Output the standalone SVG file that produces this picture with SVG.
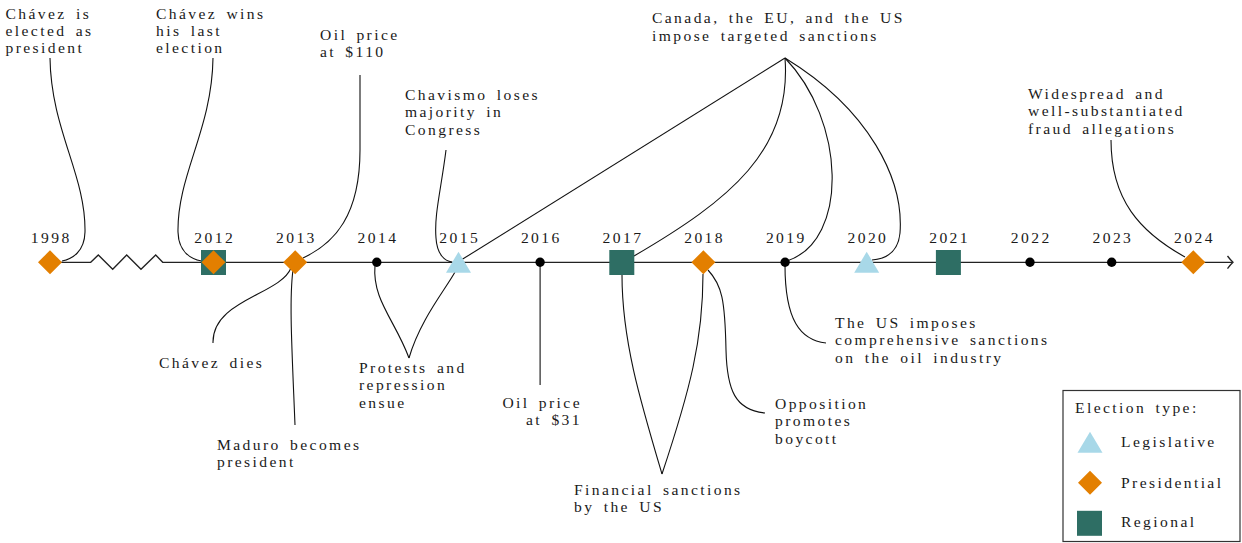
<svg xmlns="http://www.w3.org/2000/svg" width="1242" height="543" viewBox="0 0 1242 543">
<style>
text{font-family:"Liberation Serif","Times New Roman",serif;font-size:15.6px;fill:#1a1a1a;letter-spacing:2.4px;word-spacing:3px}
.yr{text-anchor:middle}
.c{fill:none;stroke:#111;stroke-width:1.1}
.ax{fill:none;stroke:#222;stroke-width:1.3}
.pres{fill:#e37f00}
.reg{fill:#2e6e64}
.leg{fill:#a8d8e8}
</style>
<defs>
<path id="dia" class="pres" d="M0,-12 L12,0 L0,12 L-12,0 Z"/>
<rect id="sq" class="reg" x="-12.5" y="-12.5" width="25" height="25"/>
<path id="tri" class="leg" d="M0,-10.5 L12.5,10.5 L-12.5,10.5 Z"/>
<circle id="dot" r="4.7" fill="#000"/>
</defs>
<rect width="1242" height="543" fill="#fff"/>
<g id="axis">
<path class="ax" d="M50,262.3 L90.7,262.3 L98.3,255 L112.7,269.3 L126.7,255 L141,269.3 L155.7,255 L162.7,262.3 L1232,262.3"/>
<path class="ax" d="M1227.5,256 Q1230.5,260 1233,262.3 Q1230.5,264.6 1227.5,268.6"/>
</g>
<g id="connectors">
<path class="c" d="M50,58 C51,130 86,175 85,232 C84.5,252 72,259 62,261"/>
<path class="c" d="M213,58 C212,130 177,175 178,232 C178.5,252 191,259 201.5,261"/>
<path class="c" d="M360,75 L360,150 C360,215 335,243 303,258"/>
<path class="c" d="M446,150 C441,190 434,215 436,238 C437,255 445,261 452,262"/>
<path class="c" d="M785,58 L462.3,259.3"/>
<path class="c" d="M785,58 C792,150 730,200 634,256"/>
<path class="c" d="M785,58 C845,120 850,240 787,261"/>
<path class="c" d="M785,58 C870,110 904,180 900,233 C898,253 885,259 872,260"/>
<path class="c" d="M1111,140 C1111,200 1140,232 1185,257"/>
<path class="c" d="M213,343 C212,300 280,295 291,268"/>
<path class="c" d="M295,425 C292,350 289,300 293,270"/>
<path class="c" d="M409,358 C395,320 372,300 375,265"/>
<path class="c" d="M409,358 C420,320 445,290 455,272"/>
<path class="c" d="M540.1,262 L540.1,385"/>
<path class="c" d="M662,474 C640,400 622,340 622,275"/>
<path class="c" d="M662,474 C690,390 703,340 703,274"/>
<path class="c" d="M765,413 C735,410 727,390 726,350 C725,300 722,285 708,270"/>
<path class="c" d="M826,343 C800,340 785,320 785,265"/>
</g>
<g id="markers">
<use href="#dia" x="50" y="262.3"/>
<use href="#sq" x="213.5" y="262.5"/>
<use href="#dia" x="213.5" y="262.3"/>
<use href="#dia" x="295.2" y="262.3"/>
<use href="#dot" x="376.8" y="262.3"/>
<use href="#tri" x="458.5" y="262.2"/>
<use href="#dot" x="540.1" y="262.3"/>
<use href="#sq" x="621.8" y="262.5"/>
<use href="#dia" x="703.4" y="262.3"/>
<use href="#dot" x="785.1" y="262.3"/>
<use href="#tri" x="866.7" y="262.2"/>
<use href="#sq" x="948.4" y="262.5"/>
<use href="#dot" x="1030" y="262.3"/>
<use href="#dot" x="1111.7" y="262.3"/>
<use href="#dia" x="1193.3" y="262.3"/>
</g>
<g id="years">
<text class="yr" x="51.2" y="243">1998</text>
<text class="yr" x="214.7" y="243">2012</text>
<text class="yr" x="296.4" y="243">2013</text>
<text class="yr" x="378" y="243">2014</text>
<text class="yr" x="459.7" y="243">2015</text>
<text class="yr" x="541.3" y="243">2016</text>
<text class="yr" x="623" y="243">2017</text>
<text class="yr" x="704.6" y="243">2018</text>
<text class="yr" x="786.3" y="243">2019</text>
<text class="yr" x="867.9" y="243">2020</text>
<text class="yr" x="949.6" y="243">2021</text>
<text class="yr" x="1031.2" y="243">2022</text>
<text class="yr" x="1112.9" y="243">2023</text>
<text class="yr" x="1194.5" y="243">2024</text>
</g>
<g id="ev-1998"><text x="5.5" y="18.5"><tspan x="5.5">Chávez is</tspan><tspan x="5.5" dy="17.4">elected as</tspan><tspan x="5.5" dy="17.4">president</tspan></text></g>
<g id="ev-2012"><text x="156" y="18.5"><tspan x="156">Chávez wins</tspan><tspan x="156" dy="17.4">his last</tspan><tspan x="156" dy="17.4">election</tspan></text></g>
<g id="ev-oil110"><text x="320" y="40"><tspan x="320">Oil price</tspan><tspan x="320" dy="17.4">at $110</tspan></text></g>
<g id="ev-chavismo"><text x="405" y="100"><tspan x="405">Chavismo loses</tspan><tspan x="405" dy="17.4">majority in</tspan><tspan x="405" dy="17.4">Congress</tspan></text></g>
<g id="ev-targeted"><text x="652" y="23.3"><tspan x="652">Canada, the EU, and the US</tspan><tspan x="652" dy="17.4">impose targeted sanctions</tspan></text></g>
<g id="ev-fraud"><text x="1028" y="99"><tspan x="1028">Widespread and</tspan><tspan x="1028" dy="17.4">well-substantiated</tspan><tspan x="1028" dy="17.4">fraud allegations</tspan></text></g>
<g id="ev-dies"><text x="159" y="368">Chávez dies</text></g>
<g id="ev-maduro"><text x="217" y="449.5"><tspan x="217">Maduro becomes</tspan><tspan x="217" dy="17.4">president</tspan></text></g>
<g id="ev-protests"><text x="359" y="373"><tspan x="359">Protests and</tspan><tspan x="359" dy="17.4">repression</tspan><tspan x="359" dy="17.4">ensue</tspan></text></g>
<g id="ev-oil31"><text x="582" y="408" text-anchor="end"><tspan x="582">Oil price</tspan><tspan x="582" dy="17.4">at $31</tspan></text></g>
<g id="ev-financial"><text x="574" y="495"><tspan x="574">Financial sanctions</tspan><tspan x="574" dy="17.4">by the US</tspan></text></g>
<g id="ev-oilsanctions"><text x="835" y="328"><tspan x="835">The US imposes</tspan><tspan x="835" dy="17.4">comprehensive sanctions</tspan><tspan x="835" dy="17.4">on the oil industry</tspan></text></g>
<g id="ev-boycott"><text x="775" y="409"><tspan x="775">Opposition</tspan><tspan x="775" dy="17.4">promotes</tspan><tspan x="775" dy="17.4">boycott</tspan></text></g>
<g id="legend">
<rect x="1063" y="390.5" width="177" height="151" fill="#fff" stroke="#333" stroke-width="1.2"/>
<text x="1075" y="413.3">Election type:</text>
<use href="#tri" x="1090" y="442.2"/>
<text x="1121" y="446.7">Legislative</text>
<use href="#dia" x="1090" y="482.7"/>
<text x="1121" y="488.3">Presidential</text>
<use href="#sq" x="1089.5" y="523.3"/>
<text x="1121" y="526.7">Regional</text>
</g>
</svg>
